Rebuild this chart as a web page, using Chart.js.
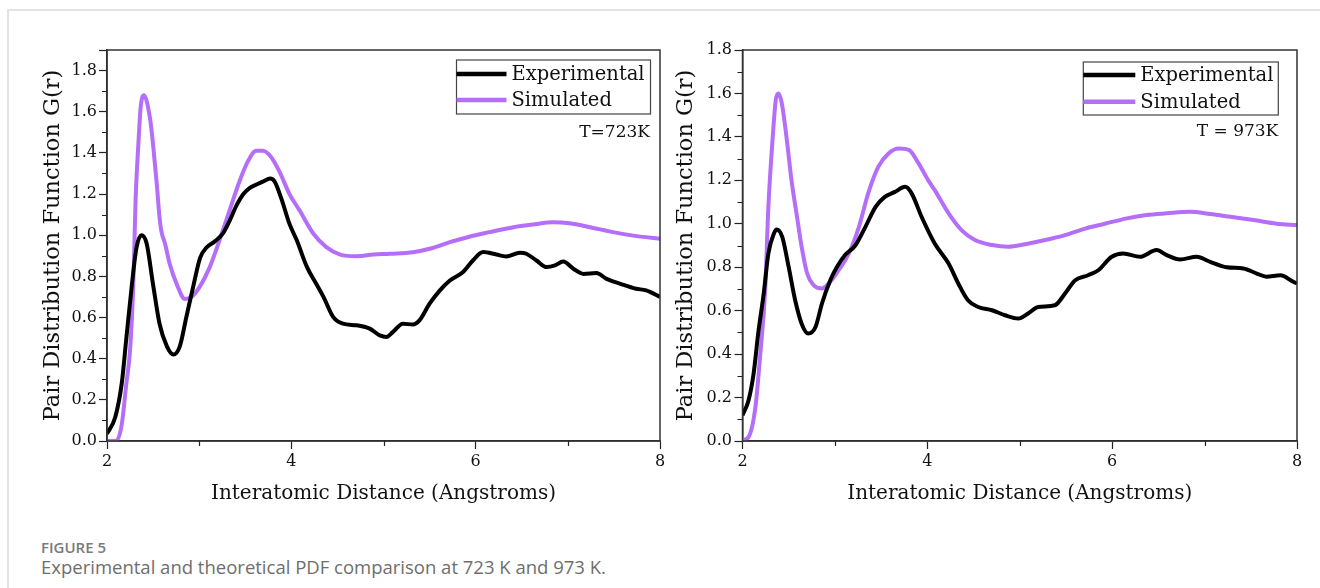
<!DOCTYPE html>
<html>
<head>
<meta charset="utf-8">
<script src="https://cdn.jsdelivr.net/npm/chart.js@4"></script>
<style>
  body { margin: 0; background: #fff; width: 1320px; height: 588px; position: relative; overflow: hidden; }
  .card { position: absolute; left: 7px; top: 9px; right: -4px; bottom: -4px; border-top: 2px solid #e3e3e3; border-left: 2px solid #e3e3e3; }
  #chart723 { position: absolute; left: 0; top: 0; }
  #chart973 { position: absolute; left: 670px; top: 0; }
  .fig { position: absolute; left: 41px; top: 537px; font: 600 15px 'Open Sans', sans-serif; color: #7a7a7a; line-height: 20px; }
  .cap { position: absolute; left: 41px; top: 555px; font: 18.5px 'Open Sans', sans-serif; color: #6e6e6e; line-height: 24px; }
</style>
</head>
<body>
<div class="card"></div>
<canvas id="chart723" width="670" height="520"></canvas>
<canvas id="chart973" width="650" height="520"></canvas>
<div class="fig">FIGURE 5</div>
<div class="cap">Experimental and theoretical PDF comparison at 723 K and 973 K.</div>
<script>
// [r (Angstrom), G(r)]
const exp723 = [[2.0,0.035],[2.09,0.117],[2.16,0.28],[2.21,0.5],[2.27,0.76],[2.32,0.94],[2.375,1.0],[2.43,0.96],[2.5,0.76],
  [2.57,0.57],[2.65,0.46],[2.72,0.42],[2.79,0.46],[2.86,0.6],[2.94,0.76],[3.01,0.89],[3.08,0.94],[3.17,0.97],[3.26,1.01],
  [3.33,1.07],[3.4,1.14],[3.48,1.2],[3.55,1.23],[3.64,1.25],[3.69,1.26],[3.77,1.275],[3.82,1.26],[3.89,1.18],[3.98,1.055],
  [4.06,0.974],[4.17,0.845],[4.27,0.764],[4.35,0.699],[4.455,0.602],[4.56,0.57],[4.71,0.562],[4.85,0.546],[4.96,0.513],
  [5.03,0.505],[5.1,0.529],[5.21,0.57],[5.32,0.566],[5.39,0.586],[5.5,0.667],[5.61,0.731],[5.72,0.78],[5.86,0.82],
  [5.97,0.877],[6.08,0.918],[6.225,0.906],[6.33,0.897],[6.48,0.915],[6.55,0.91],[6.66,0.877],[6.77,0.845],[6.86,0.853],
  [6.95,0.872],[7.06,0.837],[7.17,0.812],[7.31,0.816],[7.42,0.788],[7.57,0.764],[7.74,0.74],[7.85,0.732],[8.0,0.70]];
const sim723 = [[2.0,0],[2.1,0],[2.16,0.08],[2.21,0.28],[2.25,0.44],[2.285,0.76],[2.31,1.17],[2.34,1.44],[2.365,1.62],
  [2.4,1.68],[2.466,1.57],[2.5,1.44],[2.54,1.25],[2.567,1.10],[2.59,1.02],[2.63,0.958],[2.68,0.861],[2.755,0.764],
  [2.845,0.69],[2.917,0.70],[3.007,0.75],[3.115,0.845],[3.224,0.98],[3.33,1.12],[3.44,1.265],[3.53,1.36],[3.62,1.41],
  [3.69,1.41],[3.78,1.38],[3.87,1.31],[3.98,1.2],[4.09,1.12],[4.24,1.007],[4.38,0.942],[4.53,0.906],[4.71,0.898],
  [4.89,0.906],[5.07,0.91],[5.32,0.917],[5.5,0.934],[5.72,0.966],[5.94,0.994],[6.15,1.015],[6.41,1.039],[6.62,1.052],
  [6.84,1.063],[7.02,1.058],[7.24,1.039],[7.49,1.015],[7.71,0.998],[8.0,0.983]];
const exp973 = [[2.0,0.118],[2.065,0.187],[2.12,0.31],[2.17,0.495],[2.23,0.68],[2.28,0.863],[2.34,0.955],[2.37,0.974],
  [2.43,0.94],[2.5,0.8],[2.57,0.648],[2.64,0.54],[2.71,0.495],[2.79,0.525],[2.86,0.633],[2.95,0.74],[3.02,0.8],[3.11,0.856],
  [3.22,0.9],[3.33,0.986],[3.44,1.078],[3.54,1.124],[3.65,1.147],[3.76,1.17],[3.83,1.14],[3.94,1.03],[4.08,0.909],
  [4.23,0.817],[4.335,0.725],[4.44,0.648],[4.55,0.617],[4.7,0.602],[4.84,0.579],[4.985,0.564],[5.09,0.587],[5.2,0.617],
  [5.38,0.625],[5.49,0.679],[5.6,0.74],[5.74,0.763],[5.85,0.786],[5.995,0.848],[6.12,0.863],[6.3,0.848],[6.48,0.879],
  [6.59,0.856],[6.735,0.836],[6.915,0.848],[7.06,0.825],[7.24,0.8],[7.42,0.794],[7.565,0.771],[7.67,0.756],[7.82,0.763],
  [7.96,0.733],[8.0,0.725]];
const sim973 = [[2.0,0.003],[2.065,0.018],[2.14,0.157],[2.19,0.387],[2.245,0.694],[2.28,1.078],[2.33,1.416],[2.36,1.57],
  [2.39,1.6],[2.425,1.555],[2.48,1.385],[2.53,1.2],[2.59,1.032],[2.64,0.894],[2.7,0.771],[2.77,0.717],[2.86,0.702],
  [2.95,0.733],[3.04,0.786],[3.15,0.863],[3.26,0.986],[3.36,1.14],[3.47,1.263],[3.58,1.324],[3.69,1.347],[3.8,1.34],
  [3.905,1.278],[4.01,1.2],[4.08,1.155],[4.23,1.048],[4.37,0.971],[4.515,0.925],[4.7,0.902],[4.875,0.894],[5.06,0.906],
  [5.275,0.925],[5.49,0.948],[5.71,0.978],[5.92,1.0],[6.16,1.025],[6.37,1.04],[6.59,1.048],[6.84,1.055],[7.06,1.045],
  [7.28,1.032],[7.53,1.017],[7.78,1.0],[8.0,0.994]];

const seriesLabels = ['Experimental', 'Simulated'];
const xTitle = 'Interatomic Distance (Angstroms)';
const yTitle = 'Pair Distribution Function G(r)';

const SERIF = 'DejaVu Serif';
const BLACK = '#000000';
const PURPLE = '#b46ef8';

// box around the plot (top + right sides) and the short minor ticks
const framePlugin = {
    id: 'frame',
    afterDraw(chart) {
        const a = chart.chartArea;
        const ctx = chart.ctx;
        const xs = chart.scales.x, ys = chart.scales.y;
        ctx.save();
        ctx.strokeStyle = '#333';
        ctx.lineWidth = 1.5;
        ctx.strokeRect(a.left, a.top, a.right - a.left, a.bottom - a.top);
        ctx.strokeStyle = '#222';
        ctx.lineWidth = 1.2;
        ctx.beginPath();
        for (let n = 1; n < Math.round(ys.max * 10); n += 2) {
            const y = Math.round(ys.getPixelForValue(n / 10)) + 0.5;
            ctx.moveTo(a.left - 5, y);
            ctx.lineTo(a.left, y);
        }
        for (let v = 3; v < 8; v += 2) {
            const x = Math.round(xs.getPixelForValue(v)) + 0.5;
            ctx.moveTo(x, a.bottom);
            ctx.lineTo(x, a.bottom + 5);
        }
        ctx.stroke();
        ctx.restore();
    }
};

// legend box inside the plot + temperature note
const boxLegend = {
    id: 'boxLegend',
    afterDraw(chart, args, opts) {
        const a = chart.chartArea;
        const ctx = chart.ctx;
        const x0 = a.right - opts.right - opts.width;
        const y0 = a.top + opts.top;
        ctx.save();
        ctx.fillStyle = '#fff';
        ctx.fillRect(x0, y0, opts.width, opts.height);
        ctx.strokeStyle = '#444';
        ctx.lineWidth = 1.2;
        ctx.strokeRect(x0, y0, opts.width, opts.height);
        chart.data.datasets.forEach((ds, i) => {
            const y = y0 + opts.firstRow + i * opts.rowGap;
            ctx.strokeStyle = ds.borderColor;
            ctx.lineWidth = 4.5;
            ctx.beginPath();
            ctx.moveTo(x0, y);
            ctx.lineTo(x0 + opts.lineLen, y);
            ctx.stroke();
            ctx.fillStyle = '#111';
            ctx.font = '19.5px "' + SERIF + '"';
            ctx.textAlign = 'left';
            ctx.textBaseline = 'middle';
            ctx.fillText(ds.label, x0 + opts.lineLen + 5, y + 1);
        });
        ctx.font = '17px "' + SERIF + '"';
        ctx.textAlign = 'right';
        ctx.fillText(opts.note, a.right - opts.noteRight, a.top + opts.noteY);
        ctx.restore();
    }
};

function makeChart(id, expData, simData, cfg) {
    const ctx = document.getElementById(id).getContext('2d');
    const tickFont = { family: SERIF, size: 16 };
    return new Chart(ctx, {
        type: 'line',
        data: {
            datasets: [
                { label: seriesLabels[0], data: expData.map(p => ({ x: p[0], y: p[1] })), borderColor: BLACK, borderWidth: 4 },
                { label: seriesLabels[1], data: simData.map(p => ({ x: p[0], y: p[1] })), borderColor: PURPLE, borderWidth: 4 }
            ]
        },
        options: {
            responsive: false,
            animation: false,
            layout: { padding: cfg.padding },
            elements: {
                point: { radius: 0 },
                line: { cubicInterpolationMode: 'monotone', fill: false }
            },
            plugins: {
                legend: { display: false },
                tooltip: { enabled: false },
                boxLegend: cfg.legend
            },
            scales: {
                x: {
                    type: 'linear',
                    min: 2, max: 8,
                    afterFit: s => { s.height = 79; },
                    border: { display: true, color: '#222', width: 1.5 },
                    grid: { drawOnChartArea: false, drawTicks: true, tickLength: 8, tickColor: '#222', tickWidth: 1.2 },
                    ticks: {
                        stepSize: 2, autoSkip: false, maxRotation: 0, padding: 3,
                        color: '#111', font: tickFont
                    },
                    title: { display: true, text: xTitle, color: '#111', font: { family: SERIF, size: 20 }, padding: { top: 0, bottom: 14 } }
                },
                y: {
                    min: 0, max: cfg.yMax,
                    afterFit: s => { s.width = cfg.yWidth; },
                    border: { display: true, color: '#222', width: 1.5 },
                    grid: { drawOnChartArea: false, drawTicks: true, tickLength: 8, tickColor: '#222', tickWidth: 1.2 },
                    ticks: {
                        stepSize: 0.2, autoSkip: false, padding: cfg.tickPad,
                        color: '#111', font: tickFont,
                        callback: v => {
                            const n = Math.round(v * 10);
                            return n % 2 === 0 ? (n / 10).toFixed(1) : '';
                        }
                    },
                    title: { display: true, text: yTitle, color: '#111', font: { family: SERIF, size: 22.5 }, padding: { top: cfg.yTitlePad, bottom: 0 } }
                }
            }
        },
        plugins: [framePlugin, boxLegend]
    });
}

makeChart('chart723', exp723, sim723, {
    padding: { left: 30, right: 10, top: 50, bottom: 0 },
    yMax: 1.9, yWidth: 77, tickPad: 2, yTitlePad: 9.5,
    legend: { right: 9.5, width: 194, top: 10, height: 54, firstRow: 14, rowGap: 26, lineLen: 50, note: 'T=723K', noteRight: 10, noteY: 83 }
});

makeChart('chart973', exp973, sim973, {
    padding: { left: 0, right: 23, top: 50, bottom: 0 },
    yMax: 1.8, yWidth: 72.5, tickPad: 2.5, yTitlePad: 3,
    legend: { right: 18.7, width: 195, top: 12, height: 53, firstRow: 13, rowGap: 26.7, lineLen: 52, note: 'T = 973K', noteRight: 18.7, noteY: 82 }
});
</script>
</body>
</html>
